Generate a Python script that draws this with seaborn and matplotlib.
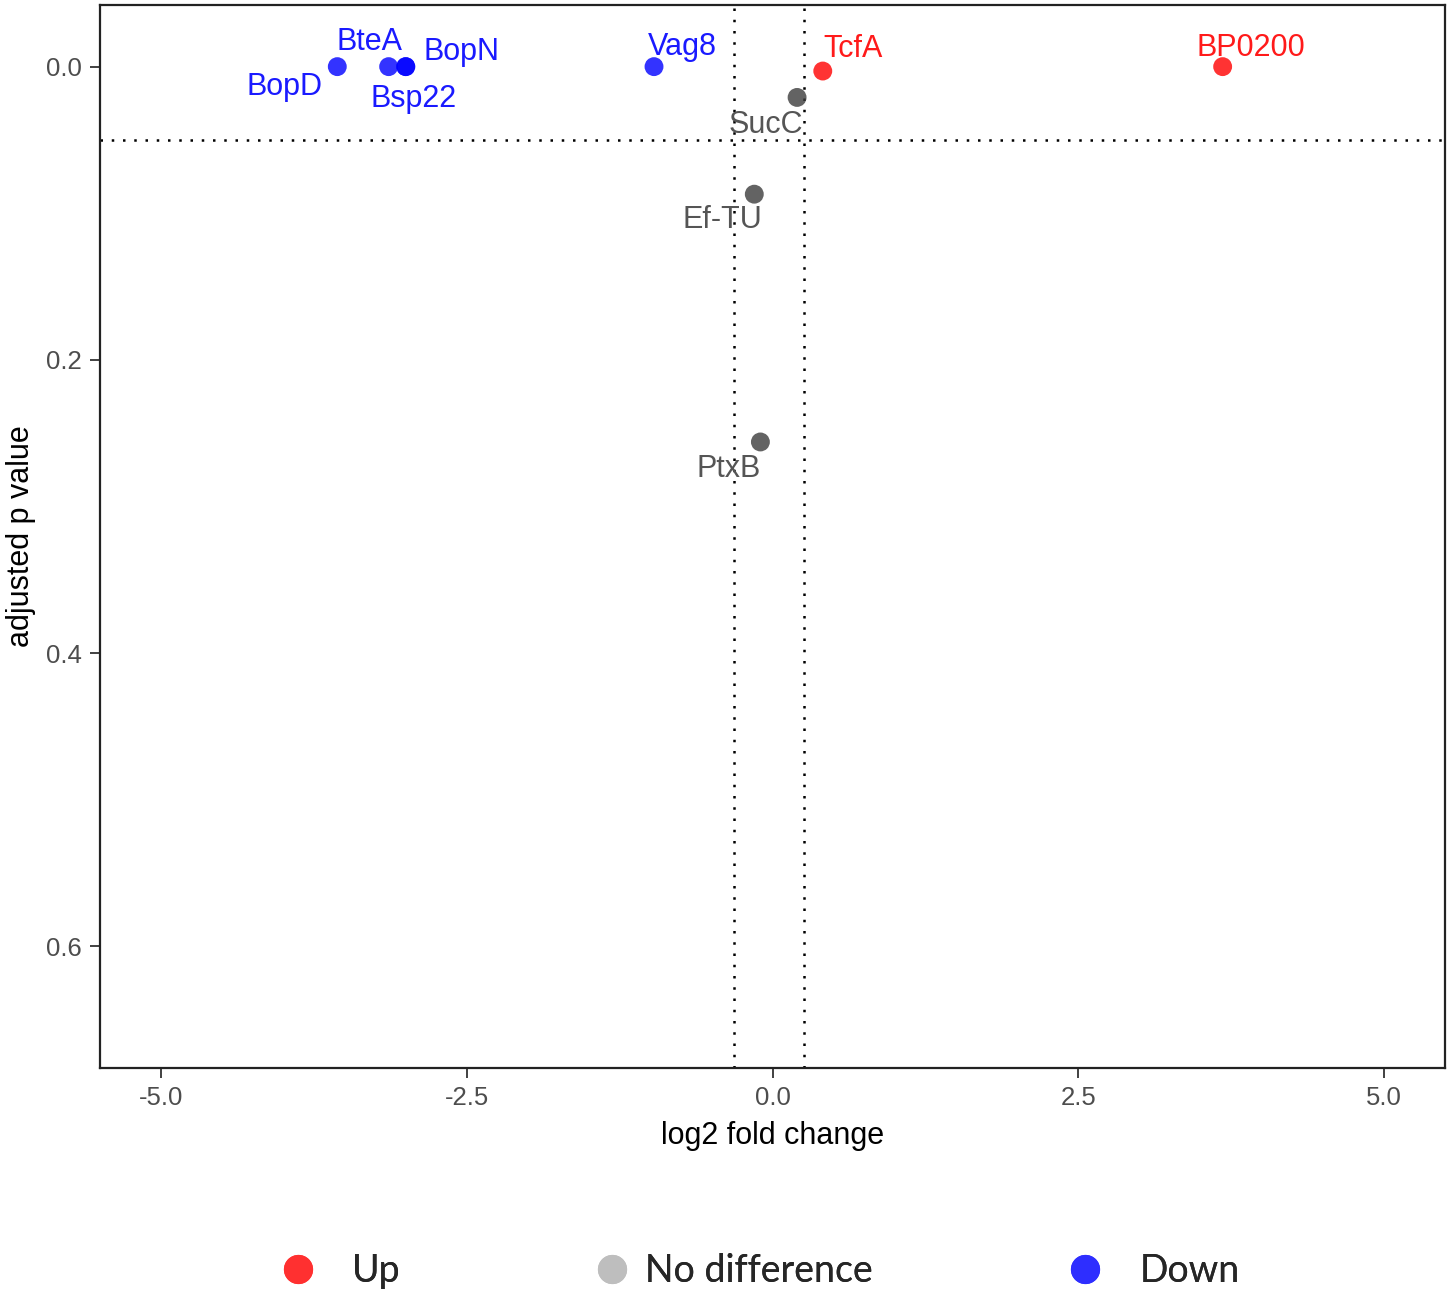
import matplotlib
matplotlib.use("Agg")
import matplotlib.pyplot as plt
from matplotlib.lines import Line2D
import seaborn as sns
import pandas as pd

genes = ["BopD", "BteA", "Bsp22", "BopN", "Vag8", "TcfA", "BP0200", "SucC", "Ef-TU", "PtxB"]
log2fc = [-3.56, -3.14, -3.00, -3.00, -0.97, 0.41, 3.68, 0.20, -0.15, -0.10]
padj = [0.0, 0.0, 0.0, 0.0, 0.0, 0.003, 0.0, 0.021, 0.087, 0.256]
status = ["Down", "Down", "Down", "Down", "Down", "Up", "Up",
          "No difference", "No difference", "No difference"]
fc_cut = [-0.32, 0.26]
p_cut = 0.05
x_ticks = [-5.0, -2.5, 0.0, 2.5, 5.0]
y_ticks = [0.0, 0.2, 0.4, 0.6]
legend_labels = ["Up", "No difference", "Down"]

df = pd.DataFrame({"gene": genes, "log2fc": log2fc, "padj": padj, "status": status})

point_colors = {"Up": "#FF0000", "No difference": "#3C3C3C", "Down": "#0000FF"}
text_colors = {"Up": "#FF1A1A", "No difference": "#555555", "Down": "#1A1AFF"}
legend_colors = {"Up": "#FF3030", "No difference": "#BEBEBE", "Down": "#2E2EFF"}
# label offsets in pixels (dx, dy) relative to the point
offsets = {"BopD": (-53, -20), "BteA": (-19, 25), "Bsp22": (8, -32), "BopN": (56, 15),
           "Vag8": (28, 20), "TcfA": (30, 22), "BP0200": (28, 19),
           "SucC": (-31, -28), "Ef-TU": (-32, -26), "PtxB": (-32, -27)}
# legend entry placement: (left x in figure fraction, handle-text pad)
legend_place = {"Up": (0.1924, 0.95), "No difference": (0.409, 0.39), "Down": (0.7353, 0.97)}

sns.set_theme(style="white")
plt.rcParams["font.family"] = ["Liberation Sans", "DejaVu Sans"]

fig = plt.figure(figsize=(14.5, 12.98), dpi=100)
ax = fig.add_axes([0.069, 0.1772, 0.9277, 0.8189])

sns.scatterplot(data=df, x="log2fc", y="padj", hue="status", palette=point_colors,
                s=185, alpha=0.8, edgecolor="none", legend=False, ax=ax, zorder=3)

for v in fc_cut:
    ax.axvline(v, color="black", linestyle=(0, (1, 3.5)), linewidth=1.8, zorder=1)
ax.axhline(p_cut, color="black", linestyle=(0, (1, 3.5)), linewidth=1.8, zorder=1)

for g, x, y, s in zip(genes, log2fc, padj, status):
    ax.annotate(g, (x, y), xytext=offsets[g], textcoords="offset pixels",
                ha="center", va="center", fontsize=22, color=text_colors[s], zorder=4)

ax.set_xlim(-5.5, 5.5)
ax.set_ylim(0.683, -0.042)
ax.set_xticks(x_ticks)
ax.set_xticklabels([f"{t:.1f}" for t in x_ticks])
ax.set_yticks(y_ticks)
ax.set_yticklabels([f"{t:.1f}" for t in y_ticks])
ax.tick_params(axis="both", which="major", length=7, width=1.3, color="#333333",
               labelsize=18.5, labelcolor="#4D4D4D", pad=6, bottom=True, left=True)
for sp in ax.spines.values():
    sp.set_color("#222222")
    sp.set_linewidth(1.6)
ax.set_xlabel("log2 fold change", fontsize=22, color="black", labelpad=8)
ax.set_ylabel("adjusted p value", fontsize=22, color="black", labelpad=7)

for lab in legend_labels:
    h = Line2D([0], [0], marker="o", linestyle="none", markersize=21,
               markerfacecolor=legend_colors[lab], markeredgecolor="none")
    xpos, pad = legend_place[lab]
    leg = fig.legend([h], [lab], loc="center left", bbox_to_anchor=(xpos, 0.021),
                     frameon=False, handlelength=1.0, handletextpad=pad,
                     borderpad=0, borderaxespad=0,
                     prop={"family": ["Lato", "DejaVu Sans"], "size": 27})
    fig.add_artist(leg)

fig.savefig("out.png", dpi=100)
